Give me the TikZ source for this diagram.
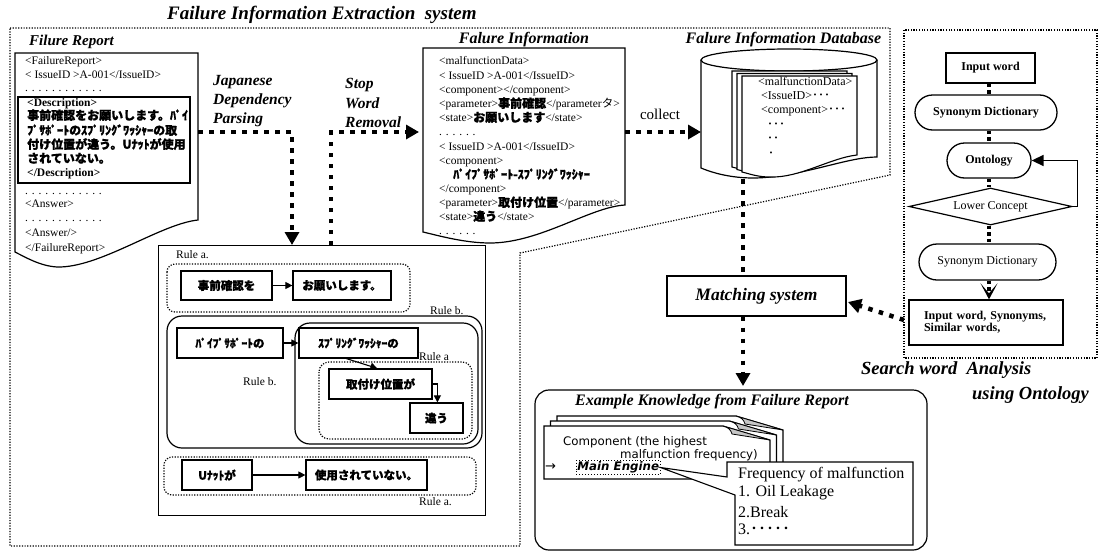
\documentclass[tikz,border=0pt]{standalone}
\usepackage{fontspec}
\setmainfont{Liberation Serif}
\newfontfamily\jpfont{Noto Sans CJK JP}[BoldFeatures={FakeBold=1.2}]
\newfontfamily\cardfont{DejaVu Sans}
\usetikzlibrary{arrows.meta,shapes.geometric,calc}
\newcommand\fsz[1]{\fontsize{#1}{#1}\selectfont}
\newcommand\jb[1]{{\jpfont\bfseries\fsz{12}#1}}
\begin{document}
\begin{tikzpicture}[x=1pt,y=-1pt,
  bigdot/.style={line width=4.5pt,dash pattern=on 4.5pt off 6.5pt},
  bighead/.style={-{Triangle[length=13pt,width=14pt]}},
  thindot/.style={line width=1.2pt,dash pattern=on 1.2pt off 1.5pt},
  frame/.style={line width=1.2pt},
  tl/.style={anchor=west,inner sep=0pt,text height=8pt,text depth=2.5pt,font=\fsz{11.5}},
  jl/.style={anchor=west,inner sep=0pt,text height=8pt,text depth=2.5pt,font=\jpfont\bfseries\fsz{12}},
  jbox/.style={draw,line width=1.2pt,inner sep=0pt,minimum height=30pt,font=\jpfont\bfseries\fsz{11.5}},
  sarrow/.style={line width=1.1pt,-{Triangle[length=7pt,width=7pt]}},
  rulel/.style={anchor=west,inner sep=0pt,font=\fsz{11.5}},
  ttl/.style={inner sep=0pt,font=\bfseries\itshape\fsz{16}},
  midot/.style={line width=3.5pt,dash pattern=on 3.5pt off 3pt},
  fbox/.style={draw,line width=1.3pt,inner sep=0pt,font=\bfseries\fsz{12}},
  cardtxt/.style={inner sep=0pt,font=\cardfont\fsz{11.8}},
  calltxt/.style={anchor=west,inner sep=0pt,font=\fsz{16}},
]
\useasboundingbox (0,0) rectangle (1100,552);

% ---------- extraction system boundary ----------
\draw[thindot] (10,28) -- (890,28) -- (890,175) -- (520,253) -- (520,546) -- (10,546) -- cycle;
\node[ttl,anchor=west,font=\bfseries\itshape\fsz{19}] (systitle) at (167,15) {Failure Information Extraction\ \ system};

% ---------- Failure report ----------
\node[ttl,anchor=west,font=\bfseries\itshape\fsz{15}] (frt) at (29,42) {Filure Report};
\draw[frame,fill=white] (15,53) -- (198,53) -- (198,220) .. controls (160,224) and (100,268) .. (57,267) .. controls (40,266) and (25,257) .. (15,252) -- cycle;
\draw[frame] (18,97) rectangle (190,183);
\node[tl] (fr1) at (25,62) {<FailureReport>};
\node[tl] (fr2) at (25,76) {< IssueID >A-001</IssueID>};
\node[tl] (fr3) at (25,89) {. . . . . . . . . . . .};
\node[tl,font=\bfseries\fsz{11.5}] (fr4) at (27,104) {<Description>};
\node[jl] (fr5) at (27,117) {事前確認をお願いします。ﾊﾟｲ};
\node[jl] (fr6) at (27,132) {ﾌﾟｻﾎﾟｰﾄのｽﾌﾟﾘﾝｸﾞﾜｯｼｬｰの取};
\node[jl] (fr7) at (27,146) {付け位置が違う。Uﾅｯﾄが使用};
\node[jl] (fr8) at (27,160) {されていない。};
\node[tl,font=\bfseries\fsz{11.5}] (fr9) at (27,174) {</Description>};
\node[tl] (fr10) at (25,192) {. . . . . . . . . . . .};
\node[tl] (fr11) at (25,205) {<Answer>};
\node[tl] (fr12) at (25,219) {. . . . . . . . . . . .};
\node[tl] (fr13) at (25,234) {<Answer/>};
\node[tl] (fr14) at (25,249) {</FailureReport>};

% ---------- processing labels and arrows ----------
\node[ttl,anchor=west,font=\bfseries\itshape\fsz{15.5}] (jdp1) at (213,82) {Japanese};
\node[ttl,anchor=west,font=\bfseries\itshape\fsz{15.5}] (jdp2) at (213,101) {Dependency};
\node[ttl,anchor=west,font=\bfseries\itshape\fsz{15.5}] (jdp3) at (213,120) {Parsing};
\node[ttl,anchor=west,font=\bfseries\itshape\fsz{15.5}] (swr1) at (345,85) {Stop};
\node[ttl,anchor=west,font=\bfseries\itshape\fsz{15.5}] (swr2) at (345,103) {Word};
\node[ttl,anchor=west,font=\bfseries\itshape\fsz{15.5}] (swr3) at (345,122) {Removal};

\coordinate (frR) at (198,132);
\coordinate (jdpE) at (292,245);
\coordinate (swrS) at (331,245);
\coordinate (fiL) at (419,132);
\draw[bigdot,bighead] (frR) -| (jdpE);
\draw[bigdot,bighead] (swrS) |- (fiL);

% ---------- Failure information ----------
\node[ttl] (fit) at (524,40) {Falure Information};
\draw[frame,fill=white] (423,48) -- (625,48) -- (625,205) .. controls (590,207) and (540,243) .. (490,243) .. controls (465,243) and (440,236) .. (423,232) -- cycle;
\node[tl] (fi1) at (439,62) {<malfunctionData>};
\node[tl] (fi2) at (439,77) {< IssueID >A-001</IssueID>};
\node[tl] (fi3) at (439,91) {<component></component>};
\node[tl] (fi4) at (439,105) {<parameter>\jb{事前確認}</parameter{\jpfont タ}>};
\node[tl] (fi5) at (439,119) {<state>\jb{お願いします}</state>};
\node[tl] (fi6) at (439,133) {. . . . . .};
\node[tl] (fi7) at (439,148) {< IssueID >A-001</IssueID>};
\node[tl] (fi8) at (439,162) {<component>};
\node[jl] (fi9) at (453,176) {ﾊﾟｲﾌﾟｻﾎﾟｰﾄ-ｽﾌﾟﾘﾝｸﾞﾜｯｼｬｰ};
\node[tl] (fi10) at (439,190) {</component>};
\node[tl] (fi11) at (439,204) {<parameter>\jb{取付け位置}</parameter>};
\node[tl] (fi12) at (439,218) {<state>\jb{違う}</state>};
\node[tl] (fi13) at (439,232) {. . . . . .};

% ---------- collect ----------
\node[inner sep=0pt,font=\fsz{15}] (col) at (660,114) {collect};
\coordinate (fiR) at (625,132);
\coordinate (dbL) at (701,132);
\draw[bigdot,bighead] (fiR) -- (dbL);

% ---------- database ----------
\node[ttl] (dbt) at (783.5,40) {Falure Information Database};
\draw[frame,fill=white] (701,60) -- (701,168) .. controls (720,176) and (745,180) .. (770,177) .. controls (815,172) and (850,157) .. (877,157) -- (877,60);
\draw[frame,fill=white] (789,60) ellipse [x radius=88pt,y radius=11pt];
\foreach \d in {10,5,0}{
  \draw[line width=1.1pt,fill=white,shift={(-\d,-\d/2)}] (742,76) -- (857,76) -- (857,155) .. controls (830,158) and (800,178) .. (770,177) .. controls (758,177) and (750,174) .. (742,172) -- cycle;
}
\node[tl,font=\fsz{12}] (db1) at (758,83) {<malfunctionData>};
\node[tl,font=\fsz{12}] (db2) at (761,97) {<IssueID>{\jpfont ･･･}};
\node[tl,font=\fsz{12}] (db3) at (761,111) {<component>{\jpfont ･･･}};
\node[tl,font=\jpfont\fsz{12}] (db4) at (767,126) {･･･};
\node[tl,font=\jpfont\fsz{12}] (db5) at (767,140) {･･};
\node[tl,font=\jpfont\fsz{12}] (db6) at (768,155) {･};

% ---------- rules box ----------
\node[draw,line width=1.2pt,fill=white,minimum width=327pt,minimum height=270pt,inner sep=0pt,anchor=north west] (rules) at (158,245) {};
\node[rulel] (ra1) at (176,255) {Rule a.};
\draw[thindot,rounded corners=8pt] (167,264) rectangle (410,312);
\node[jbox,minimum width=91pt,minimum height=29pt] (r1) at (226.5,285.5) {事前確認を};
\node[jbox,minimum width=98pt,minimum height=29pt] (r2) at (342,285.5) {お願いします。};
\draw[sarrow] (r1) -- (r2);

\node[rulel] (rb1) at (430,311) {Rule b.};
\draw[line width=1.2pt,rounded corners=15pt] (167,316) rectangle (482,448);
\draw[line width=1.2pt,rounded corners=15pt] (295,323) rectangle (478,444);
\node[rulel] (rb2) at (243,382) {Rule b.};
\node[rulel] (ra2) at (419,357) {Rule a};
\draw[thindot,rounded corners=10pt] (319,362) rectangle (472,439);
\node[jbox,minimum width=106pt] (r3) at (230,343) {ﾊﾟｲﾌﾟｻﾎﾟｰﾄの};
\node[jbox,minimum width=119pt] (r4) at (358.5,343) {ｽﾌﾟﾘﾝｸﾞﾜｯｼｬｰの};
\node[jbox,minimum width=103pt] (r5) at (380.5,384) {取付け位置が};
\node[jbox,minimum width=53pt] (r6) at (436.5,418) {違う};
\draw[sarrow] (r3) -- (r4);
\draw[sarrow] ($(r4.south west)+(48,0)$) -- ($(r5.north west)+(49,0)$);
\draw[sarrow] (r5.east) -| ($(r6.north west)+(28,0)$);

\draw[thindot,rounded corners=8pt] (164,457) rectangle (476,495);
\node[jbox,minimum width=70pt] (r7) at (217,475) {Uﾅｯﾄが};
\node[jbox,minimum width=121pt] (r8) at (366.5,475) {使用されていない。};
\draw[sarrow] (r7) -- (r8);
\node[rulel] (ra3) at (419,502) {Rule a.};

% ---------- matching ----------
\node[draw,line width=1.2pt,fill=white,minimum width=179pt,minimum height=40pt,inner sep=0pt,font=\bfseries\itshape\fsz{17.5}] (m) at (756.5,296) {Matching system};
\coordinate (dbB) at (743,179);
\coordinate (exT) at (743,386);
\draw[bigdot] (dbB) -- (dbB |- m.north);
\draw[bigdot,bighead] (m.south -| dbB) -- (exT);

% ---------- search word analysis ----------
\draw[thindot] (904,30) rectangle (1097,358);
\coordinate (cx) at (989,0);
\node[fbox,minimum width=89pt,minimum height=30pt] (iw) at (990.5,68) {Input word};
\node[fbox,rounded corners=17.5pt,minimum width=142pt,minimum height=35pt] (sd1) at (986,112.5) {Synonym Dictionary};
\node[fbox,rounded corners=17.5pt,minimum width=84pt,minimum height=35pt] (onto) at (989,160.5) {Ontology};
\node[draw,line width=1.2pt,diamond,shape aspect=4.4,minimum width=163pt,minimum height=37pt,inner sep=0pt,font=\fsz{12}] (lc) at (990.5,206.5) {Lower Concept};
\node[draw,line width=1.3pt,rounded corners=18pt,minimum width=137pt,minimum height=36pt,inner sep=0pt,font=\fsz{12}] (sd2) at (987.5,262) {Synonym Dictionary};
\node[fbox,minimum width=154pt,minimum height=45pt,align=left,text width=124pt] (res) at (986,322.5) {Input word, Synonyms,\\Similar words,};
\draw[midot] (iw.south -| cx) -- (sd1.north -| cx);
\draw[midot] (sd1.south -| cx) -- (onto.north -| cx);
\draw[midot] (onto.south -| cx) -- (lc.north -| cx);
\draw[midot] (lc.south -| cx) -- (sd2.north -| cx);
\draw[midot,-{Stealth[length=16pt,width=17pt,inset=10pt]}] (sd2.south -| cx) -- (res.north -| cx);
\draw[line width=1.6pt,-{Triangle[length=12pt,width=11pt]}] (lc.east) -- ++(5,0) |- (onto.east);
\node[ttl,anchor=west,font=\bfseries\itshape\fsz{18.5}] (swa1) at (861,370) {Search word\ \ Analysis};
\node[ttl,anchor=west,font=\bfseries\itshape\fsz{18.5}] (swa2) at (972,395) {using Ontology};

\coordinate (resW) at (904,320);
\coordinate (mE) at (848,302);
\draw[bigdot,bighead] (resW) -- (mE);

% ---------- example knowledge ----------
\draw[frame,rounded corners=14pt] (535,390) rectangle (927,550);
\node[ttl] (ext) at (712,402) {Example Knowledge from Failure Report};
\foreach \d in {13,6.5,0}{
  \begin{scope}[shift={(\d,-\d*0.77)}]
    \draw[line width=1.1pt,fill=white] (544,426) -- (723,426) -- (770,440) -- (770,479) -- (544,479) -- cycle;
    \draw[line width=0.8pt,fill=gray!45] (723,426) .. controls (728,427) and (731,430) .. (732,434) -- (770,440) -- cycle;
  \end{scope}
}
\node[cardtxt,anchor=west] (c1) at (563,442) {Component (the highest};
\node[cardtxt,anchor=east] (c2) at (758,455) {malfunction frequency)};
\node[cardtxt,anchor=west,font=\cardfont\fsz{13}] (c3) at (545,467.5) {→};
\node[draw,dotted,line width=0.9pt,inner sep=1pt,anchor=west,font=\cardfont\bfseries\itshape\fsz{11.8}] (me) at (576,467.5) {Main Engine};
\draw[line width=1.1pt,fill=white] (913,462) -- (727,462) -- (727,477) -- (me.east) -- (735,495) -- (735,545) -- (913,545) -- cycle;
\node[calltxt] (q1) at (738,475) {Frequency of malfunction};
\node[calltxt] (q2) at (738,493) {1. Oil Leakage};
\node[calltxt] (q3) at (738,512) {2.Break};
\node[calltxt] (q4) at (738,529) {3.{\jpfont ･････}};
\end{tikzpicture}
\end{document}
